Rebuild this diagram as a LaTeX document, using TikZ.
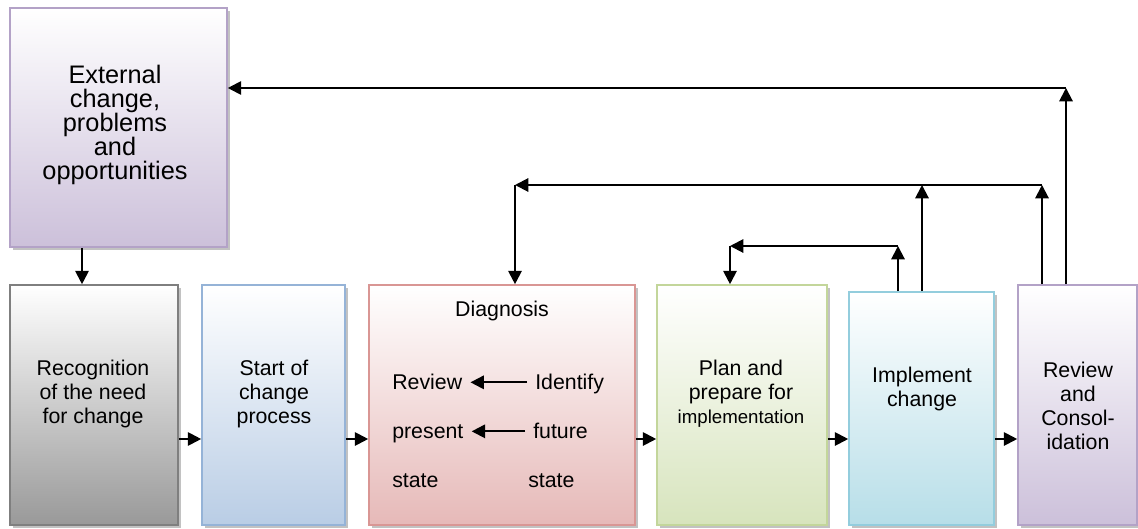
\documentclass[tikz,border=0pt]{standalone}
\usepackage{fontspec}
\setmainfont{Liberation Sans}
\usetikzlibrary{arrows.meta,shadows}
\setlength{\lineskiplimit}{-8pt}

\definecolor{extLine}{HTML}{B3A2C7}
\definecolor{extFill}{HTML}{CCC0DA}
\definecolor{recLine}{HTML}{7F7F7F}
\definecolor{recFill}{HTML}{999999}
\definecolor{staLine}{HTML}{95B3D7}
\definecolor{staFill}{HTML}{B9CDE5}
\definecolor{diaLine}{HTML}{D99694}
\definecolor{diaFill}{HTML}{E6B9B8}
\definecolor{plaLine}{HTML}{C3D69B}
\definecolor{plaFill}{HTML}{D7E4BD}
\definecolor{impLine}{HTML}{93CDDD}
\definecolor{impFill}{HTML}{B7DEE8}

\begin{document}
\begin{tikzpicture}[x=0.75pt,y=-0.75pt]
	\tikzstyle{every node}+=[inner sep=0pt]
	\tikzstyle{box}=[draw, line width=1.2pt, minimum height=180pt, drop shadow={shadow xshift=2pt,shadow yshift=-2pt,fill=black!40,opacity=0.6}]
	\tikzstyle{txt}=[align=center, font=\fontsize{16}{18}\selectfont]
	\tikzstyle{inner}=[font=\fontsize{16}{18}\selectfont, inner xsep=6pt, text height=12pt, text depth=2pt, anchor=base west]
	\tikzstyle{arr}=[line width=1.5pt, -{Triangle[length=10pt,width=10pt]}]
	\useasboundingbox (0,0) rectangle (1138,528);
	% boxes
	\node[box, draw=extLine, top color=white, bottom color=extFill, minimum width=162.75pt, minimum height=179.25pt] (ext) at (118.5,127.5) {};
	\node[box, draw=recLine, top color=white, bottom color=recFill, minimum width=126pt] (recog) at (94,405) {};
	\node[box, draw=staLine, top color=white, bottom color=staFill, minimum width=107.25pt] (start) at (273.5,405) {};
	\node[box, draw=diaLine, top color=white, bottom color=diaFill, minimum width=199.5pt] (diag) at (502,405) {};
	\node[box, draw=plaLine, top color=white, bottom color=plaFill, minimum width=127.5pt] (plan) at (742,405) {};
	\node[box, draw=impLine, top color=white, bottom color=impFill, minimum width=108.75pt, minimum height=174.75pt] (impl) at (921.5,408.5) {};
	\node[box, draw=extLine, top color=white, bottom color=extFill, minimum width=89.25pt] (rev) at (1077.5,405) {};
	% texts
	\node[txt, font=\fontsize{19}{18}\selectfont] (extT) at (115,124.5) {External\\change,\\problems\\and\\opportunities};
	\node[txt] (recogT) at (93,394) {Recognition\\of the need\\for change};
	\node[txt] (startT) at (274,394) {Start of\\change\\process};
	\node[txt] (planT) at (741,394) {Plan and\\prepare for\\{\fontsize{14}{18}\selectfont implementation}};
	\node[txt] (implT) at (922,388.5) {Implement\\change};
	\node[txt] (revT) at (1078,406) {Review\\and\\Consol-\\idation};
	\node[font=\fontsize{16}{18}\selectfont, anchor=base] (diagT) at (502,316) {Diagnosis};
	\node[inner] (rvw) at (384,389) {Review};
	\node[inner] (idf) at (527,389) {Identify};
	\node[inner] (pres) at (384,438) {present};
	\node[inner] (fut) at (525,438) {future};
	\node[inner] (st1) at (384,487) {state};
	\node[inner] (st2) at (520,487) {state};
	\draw[arr] (idf.west) -- (rvw.east);
	\draw[arr] (fut.west) -- (pres.east);
	% flow
	\coordinate (flow) at (0,439);
	\foreach \a/\b in {recog/start, start/diag, diag/plan, plan/impl, impl/rev}
		\draw[arr] (\a.east |- flow) -- (\b.west |- flow);
	\coordinate (down) at (82,0);
	\draw[arr] (ext.south -| down) -- (recog.north -| down);
	% feedback loops
	\coordinate (topR) at (1066,88);
	\coordinate (midR) at (1042,185);
	\coordinate (midM) at (922,185);
	\coordinate (midL) at (515,185);
	\coordinate (lowR) at (898,246);
	\coordinate (lowL) at (730,246);
	\draw[arr] (rev.north -| topR) -- (topR);
	\draw[arr] (topR) -- (ext.east |- topR);
	\draw[arr] (rev.north -| midR) -- (midR);
	\draw[arr] (impl.north -| midM) -- (midM);
	\draw[arr] (midR) -- (midL);
	\draw[arr] (midL) -- (diag.north -| midL);
	\draw[arr] (impl.north -| lowR) -- (lowR);
	\draw[arr] (lowR) -- (lowL);
	\draw[arr] (lowL) -- (plan.north -| lowL);
\end{tikzpicture}
\end{document}
